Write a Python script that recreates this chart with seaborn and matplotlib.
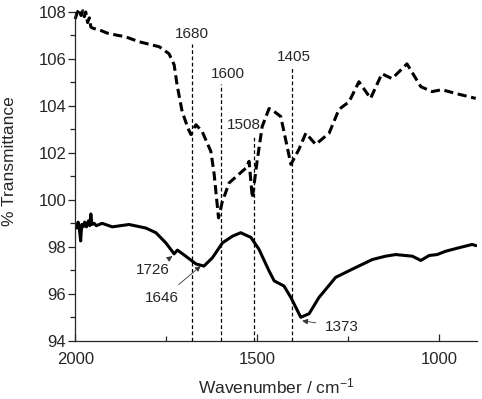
import numpy as np
import pandas as pd
import matplotlib
matplotlib.use('Agg')
import matplotlib.pyplot as plt
import seaborn as sns

# Spectrum (wavenumber in cm-1, % transmittance)
wn_dashed = [2000, 1995, 1989, 1984, 1979, 1975, 1971, 1966, 1961, 1957, 1950, 1934,
             1912, 1888, 1861, 1824, 1790, 1769, 1742, 1728, 1720, 1706, 1690, 1682,
             1668, 1651, 1627, 1618, 1606, 1596, 1577, 1531, 1522, 1513, 1500, 1486,
             1467, 1453, 1435, 1407, 1385, 1366, 1339, 1302, 1275, 1247, 1220, 1188,
             1157, 1129, 1088, 1050, 1019, 992, 954, 899]
tr_dashed = [107.70, 107.95, 108.13, 107.85, 108.05, 107.80, 108.00, 107.55, 107.75,
             107.36, 107.30, 107.24, 107.10, 107.02, 106.94, 106.73, 106.60, 106.52,
             106.22, 105.75, 104.90, 103.76, 103.05, 102.78, 103.20, 102.91, 102.06,
             101.09, 99.23, 99.90, 100.72, 101.35, 101.64, 100.08, 101.64, 103.12,
             103.89, 103.76, 103.55, 101.51, 102.15, 102.84, 102.36, 102.84, 103.85,
             104.18, 105.03, 104.32, 105.37, 105.16, 105.79, 104.82, 104.61, 104.69,
             104.53, 104.32]

wn_solid = [2000, 1996, 1992, 1988, 1985, 1982, 1978, 1974, 1969, 1964, 1960, 1957,
            1954, 1948, 1942, 1926, 1898, 1852, 1806, 1778, 1751, 1728, 1719, 1696,
            1668, 1646, 1623, 1595, 1568, 1545, 1517, 1495, 1467, 1453, 1426, 1407,
            1380, 1357, 1330, 1284, 1238, 1183, 1147, 1119, 1073, 1050, 1027, 1005,
            982, 945, 909, 898]
tr_solid = [98.95, 98.80, 99.05, 98.70, 98.25, 98.95, 98.85, 99.05, 98.85, 99.10,
            98.90, 99.40, 98.95, 99.00, 98.90, 99.00, 98.85, 98.95, 98.80, 98.60,
            98.17, 97.70, 97.86, 97.60, 97.27, 97.18, 97.53, 98.17, 98.45, 98.60,
            98.40, 97.90, 96.97, 96.55, 96.33, 95.84, 95.00, 95.15, 95.84, 96.70,
            97.05, 97.46, 97.60, 97.67, 97.60, 97.42, 97.63, 97.67, 97.81, 97.96,
            98.10, 98.05]

# marker lines (wavenumber, top of line, label position)
vline_wn = [1680, 1600, 1508, 1405]
vline_top = [106.64, 104.95, 102.78, 105.67]
vline_label_x = [1680, 1580, 1536, 1398]

# arrow labels on the solid curve
peak_labels = ['1726', '1646', '1373']
peak_xy = [(1733, 97.6), (1655, 97.18), (1376, 94.85)]
peak_text_xy = [(1788, 97.0), (1761, 95.8), (1268, 94.6)]

sns.set_style('ticks')
plt.rcParams['font.family'] = ['Liberation Sans', 'DejaVu Sans']
plt.rcParams['mathtext.default'] = 'regular'

fig, ax = plt.subplots(figsize=(4.82, 3.99), dpi=100)
fig.subplots_adjust(left=0.156, right=0.99, bottom=0.146, top=0.97)

df_d = pd.DataFrame({'wn': wn_dashed, 'tr': tr_dashed})
df_s = pd.DataFrame({'wn': wn_solid, 'tr': tr_solid})

sns.lineplot(data=df_d, x='wn', y='tr', ax=ax, color='black', lw=2.2,
             linestyle=(0, (3, 1.5)), sort=False, clip_on=False)
sns.lineplot(data=df_s, x='wn', y='tr', ax=ax, color='black', lw=2.2, sort=False)

for x, top, lx in zip(vline_wn, vline_top, vline_label_x):
    ax.plot([x, x], [94, top], color='black', lw=0.9, linestyle=(0, (3, 2)))
    ax.text(lx, top + 0.12, str(x), ha='center', va='bottom', fontsize=11)

for lab, xy, txy in zip(peak_labels, peak_xy, peak_text_xy):
    ax.annotate(lab, xy=xy, xytext=txy, fontsize=11, ha='center', va='center',
                arrowprops=dict(arrowstyle='-|>', color='#333333', lw=0.6,
                                mutation_scale=8, shrinkA=4, shrinkB=0))

ax.set_xlim(2000, 895)
ax.set_ylim(94, 108)
ax.set_xticks([2000, 1500, 1000])
ax.set_xticks([1750, 1250], minor=True)
ax.set_yticks(np.arange(94, 109, 2))
ax.set_yticks(np.arange(95, 108, 2), minor=True)
ax.tick_params(axis='x', which='both', direction='in', labelsize=12, pad=8)
ax.tick_params(axis='y', which='both', direction='out', labelsize=12, pad=1.5)
ax.tick_params(which='major', length=5, width=0.9)
ax.tick_params(which='minor', length=3.5, width=0.9)
for s in ['top', 'right']:
    ax.spines[s].set_visible(False)
for s in ['left', 'bottom']:
    ax.spines[s].set_linewidth(0.9)

ax.set_xlabel('Wavenumber / cm$^{-1}$', fontsize=12.5, labelpad=7)
ax.set_ylabel('% Transmittance', fontsize=12.5)
ax.yaxis.set_label_coords(-0.145, 0.547)

fig.savefig('out.png', dpi=100)
